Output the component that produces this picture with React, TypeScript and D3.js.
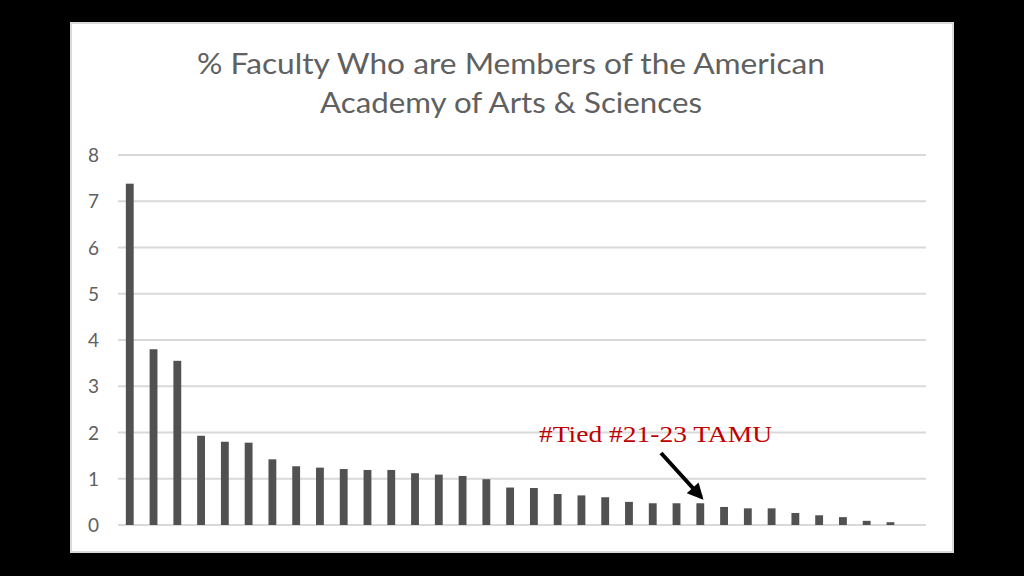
import React from "react";
import * as d3 from "d3";

const titleLines = ["% Faculty Who are Members of the American", "Academy of Arts & Sciences"];
const categories = Array.from({ length: 34 }, (_, i) => `U${i + 1}`);
const values = [
  7.38, 3.8, 3.55, 1.93, 1.8, 1.78, 1.42, 1.27, 1.24, 1.21, 1.19, 1.19, 1.12, 1.09, 1.06, 0.99,
  0.81, 0.8, 0.67, 0.64, 0.6, 0.5, 0.47, 0.47, 0.47, 0.39, 0.36, 0.36, 0.26, 0.21, 0.17, 0.09, 0.06, 0,
];
const yTicks = [0, 1, 2, 3, 4, 5, 6, 7, 8];
const annotationText = "#Tied #21-23 TAMU";
const annotatedIndex = 24;

export default function App() {
  const W = 1024, H = 576;
  const left = 118, right = 926, top = 155, bottom = 525;
  const x = d3.scaleBand<string>().domain(categories).range([left, right]).paddingInner(0.67).paddingOuter(0.33);
  const y = d3.scaleLinear().domain([0, 8]).range([bottom, top]);
  const ann = categories[annotatedIndex];
  const tipX = (x(ann) as number) + x.bandwidth() / 2 + 1;
  const tipY = y(values[annotatedIndex]) - 8;
  return (
    <svg width={W} height={H} style={{ position: "absolute", left: 0, top: 0, display: "block" }}>
      <defs>
        <marker id="ah" viewBox="0 0 10 10" refX="8" refY="5" markerWidth="4.5" markerHeight="4" orient="auto">
          <path d="M0,0 L10,5 L0,10 z" fill="#000" />
        </marker>
      </defs>
      <rect x={0} y={0} width={W} height={H} fill="#000" />
      <rect x={71} y={23} width={882} height={529} fill="#fff" stroke="#d9d9d9" strokeWidth={2} />
      <text x={511} y={74} textAnchor="middle" fontFamily="Lato, 'Open Sans', sans-serif" fontSize={28} fill="#606060" textLength={628} lengthAdjust="spacingAndGlyphs">{titleLines[0]}</text>
      <text x={511} y={113} textAnchor="middle" fontFamily="Lato, 'Open Sans', sans-serif" fontSize={28} fill="#606060" textLength={382} lengthAdjust="spacingAndGlyphs">{titleLines[1]}</text>
      {yTicks.map((t) => (
        <g key={t}>
          <line x1={left} x2={right} y1={y(t)} y2={y(t)} stroke="#d9d9d9" strokeWidth={2} />
          <text x={99} y={y(t) + 7} textAnchor="end" fontFamily="Lato, 'Open Sans', sans-serif" fontSize={19} fill="#606060">{t}</text>
        </g>
      ))}
      {categories.map((c, i) => (
        <rect key={c} x={x(c)} y={y(values[i])} width={x.bandwidth()} height={y(0) - y(values[i])} fill="#515151" />
      ))}
      <text x={539} y={442} fontFamily="'Liberation Serif', Georgia, serif" fontSize={24} fill="#c00000" textLength={233} lengthAdjust="spacingAndGlyphs">{annotationText}</text>
      <line x1={661} y1={453} x2={tipX} y2={tipY + 2} stroke="#000" strokeWidth={4} markerEnd="url(#ah)" />
    </svg>
  );
}
